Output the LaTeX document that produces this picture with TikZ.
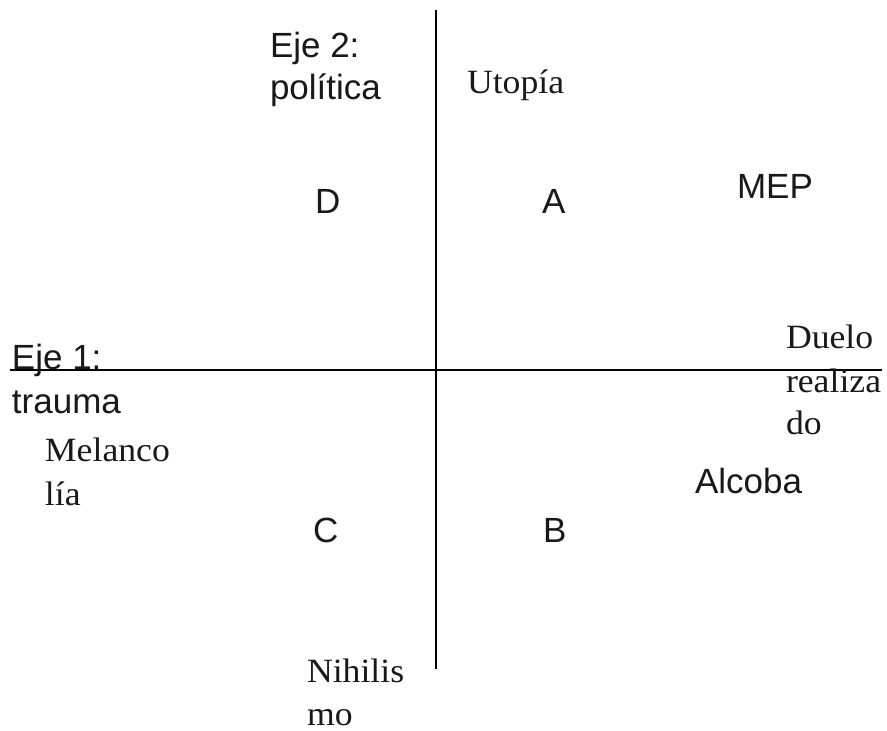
\documentclass[tikz,border=0pt]{standalone}
\usepackage{fontspec}
\newfontfamily\sansf{Liberation Sans}
\newfontfamily\seriff[FakeStretch=1.05]{Liberation Serif}
\tikzset{
  axis/.style={line width=1.6pt, black},
  lbl/.style={anchor=base west, inner sep=0pt, outer sep=0pt, font=\sansf\fontsize{35}{40}\selectfont, text=black!90},
  slbl/.style={anchor=base west, inner sep=0pt, outer sep=0pt, font=\seriff\fontsize{34}{43}\selectfont, text=black!90}
}
\begin{document}
\begin{tikzpicture}[x=1pt,y=-1pt]
\useasboundingbox (0,0) rectangle (887,731);
% axes
\coordinate (hl) at (10,370);
\coordinate (hr) at (882,370);
\coordinate (vt) at (436,10);
\coordinate (vb) at (436,669);
\draw[axis] (hl) -- (hr);
\draw[axis] (vt) -- (vb);
% sans labels
\node[lbl] (eje2a) at (270,57) {Eje 2:};
\node[lbl] (eje2b) at (270,99) {política};
\node[lbl] (D) at (315,213) {D};
\node[lbl] (A) at (542,213) {A};
\node[lbl] (MEP) at (737,198) {MEP};
\node[lbl] (eje1a) at (12,369) {Eje 1:};
\node[lbl] (eje1b) at (12,413) {trauma};
\node[lbl] (Alcoba) at (695,493) {Alcoba};
\node[lbl] (C) at (313,542) {C};
\node[lbl] (B) at (543,542) {B};
% serif labels
\node[slbl] (utopia) at (467,93) {Utopía};
\node[slbl] (duelo1) at (786,348) {Duelo};
\node[slbl] (duelo2) at (786,392) {realiza};
\node[slbl] (duelo3) at (786,434) {do};
\node[slbl] (mel1) at (45,461) {Melanco};
\node[slbl] (mel2) at (45,505) {lía};
\node[slbl] (nih1) at (307,682) {Nihilis};
\node[slbl] (nih2) at (307,725) {mo};
\end{tikzpicture}
\end{document}
